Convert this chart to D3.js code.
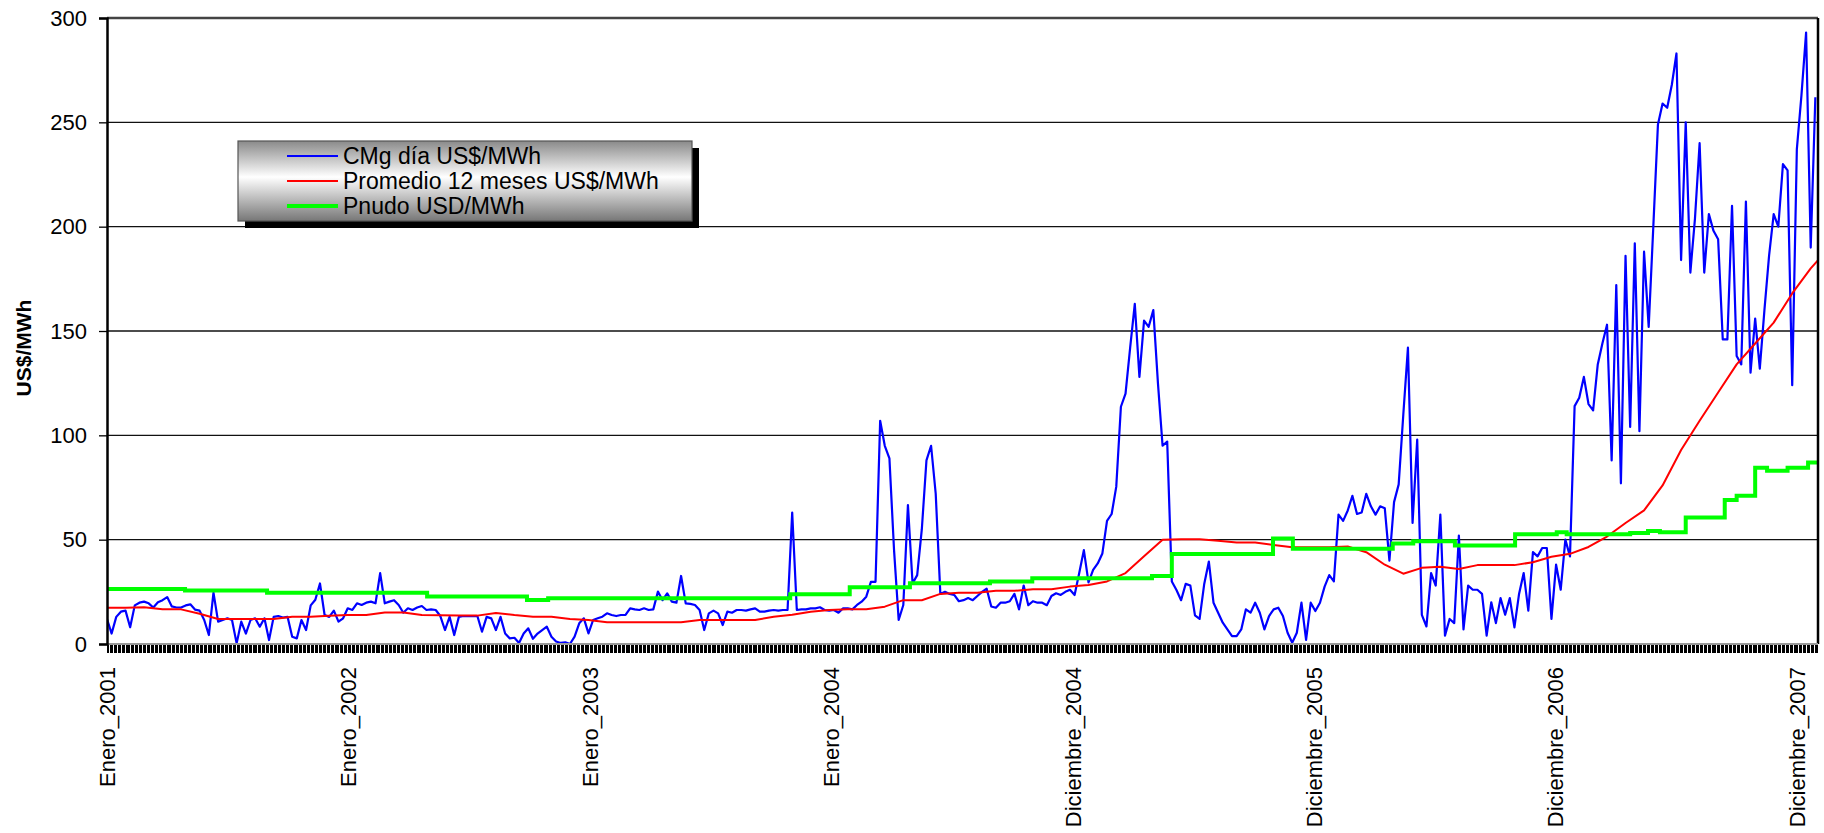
<!DOCTYPE html>
<html>
<head>
<meta charset="utf-8">
<script src="https://cdn.jsdelivr.net/npm/d3@7"></script>
<style>
  body { margin: 0; background: #fff; }
  svg { display: block; }
  text { font-family: "Liberation Sans", Arial, Helvetica, sans-serif; }
</style>
</head>
<body>
<svg id="chart" width="1824" height="833"></svg>
<script>
// ---- Data -------------------------------------------------------------
// Daily marginal cost, sampled every 7 days starting 1 Jan 2001 (US$/MWh)
const CMG_STEP_DAYS = 7;
const cmgDia = [
  12, 5, 13, 15.5, 16, 8, 18.5, 19.8, 20.3, 19.5,
  17.5, 20, 21, 22.5, 18, 17.5, 17.5, 18.5, 19, 16.5,
  16, 11.5, 4.3, 24.6, 10.7, 11.5, 12.3, 11.5, 0.3, 10.7,
  5, 11.5, 12.3, 8.3, 12.3, 1.9, 13, 13.4, 12.7, 13,
  3.5, 2.7, 11.5, 6.7, 18.5, 21.2, 29, 13.9, 13, 16,
  10.7, 12.3, 17.1, 16.3, 19.5, 18.7, 19.8, 20.3, 19.5, 34,
  19.5, 20.3, 21, 18.7, 15, 17.1, 16.3, 17.5, 18.2, 16.3,
  16.6, 16.3, 13.4, 6.7, 13, 4.3, 13, 13.4, 13.4, 13.4,
  13.4, 5.9, 13, 12.3, 6.7, 13, 5, 2.7, 3, 0.5,
  5, 7.5, 2.5, 5, 6.7, 8.3, 3.5, 1.2, 0.5, 0.8,
  0, 3.5, 9.9, 12.3, 5.1, 11.5, 12.3, 13.1, 14.7, 13.9,
  13.4, 13.9, 13.9, 17.1, 16.6, 16.3, 17.1, 16.3, 16.6, 25.1,
  21, 24.3, 20.3, 19.8, 32.6, 19.5, 19.2, 18.7, 16.3, 6.7,
  14.7, 16, 14.7, 9.1, 15.5, 15, 16.3, 16.3, 16, 16.6,
  17.1, 15.5, 15.5, 16, 16.3, 16, 16.3, 16.3, 63, 16.3,
  16.6, 16.6, 17.1, 17.1, 17.6, 16.3, 16, 16.3, 15, 17.1,
  17.1, 16.6, 18.7, 20.3, 22.7, 29.8, 29.8, 107, 95, 89,
  45, 11.5, 18.7, 66.6, 29, 33, 55, 88, 95, 72,
  24, 25, 24, 23.5, 20.5, 21, 22, 21, 23, 25,
  26.5, 18, 17.4, 19.8, 19.8, 20.5, 24, 16.6, 28, 18.6,
  20.5, 19.8, 19.8, 18.6, 23, 24.3, 23.5, 25, 26, 23.5,
  34, 45, 29.5, 35.5, 38.6, 43.4, 59, 62.3, 75.4, 113.7,
  120, 142, 163, 128, 155, 152, 160, 125, 95, 97,
  30, 25.9, 21, 28.8, 28, 13.7, 12, 28.8, 39.5, 19.8,
  15, 10.2, 7, 3.8, 3.8, 7, 16.6, 15, 19.8, 15,
  7, 13.4, 16.6, 17.4, 13.4, 5.4, 0.6, 5.4, 19.8, 2,
  19.8, 15.8, 19.8, 27.5, 33, 30, 62, 59, 64, 71,
  62.3, 63, 72, 66, 62, 66, 65, 40, 68, 76.5,
  110, 142, 58, 98, 14, 8.4, 34, 28, 62, 4,
  12, 10, 52, 7, 28, 26, 26, 24, 4, 20,
  10, 22, 14, 22, 8, 24, 34, 16, 44, 42,
  46, 46, 12, 38, 26, 50, 42, 114, 118, 128,
  115, 112, 134, 144, 153, 88, 172, 77, 186, 104,
  192, 102, 188, 152, 200, 249, 259, 257, 268, 283,
  184, 250, 178, 204, 240, 178, 206, 198, 194, 146,
  146, 210, 138, 134, 212, 130, 156, 132, 160, 186,
  206, 200, 230, 227, 124, 237, 263, 293, 190, 262
];

// 12-month rolling average, sampled every 28 days (US$/MWh)
const PROM_STEP_DAYS = 28;
const promedio12 = [
  17.4, 17.4, 17.6, 16.6, 16.6, 14.5, 12, 12, 12, 12,
  13.1, 13.1, 13.5, 13.9, 13.9, 15.1, 15.1, 13.9, 13.8, 13.6,
  13.6, 14.9, 13.9, 13.1, 13.1, 12, 11.5, 10.4, 10.4, 10.4,
  10.4, 10.4, 11.5, 11.5, 11.5, 11.5, 13.1, 14, 15.5, 16.3,
  16.6, 16.6, 17.9, 21, 21, 24, 24.6, 24.6, 25.5, 25.5,
  26.2, 26.2, 27.5, 28.3, 30, 34, 42, 50, 50.2, 50.2,
  49.5, 48.6, 48.6, 47.5, 46.4, 46.4, 46.4, 46.7, 44, 38,
  33.7, 36.5, 37, 35.9, 37.8, 37.8, 37.8, 39.2, 41.8, 43.2,
  46.5, 51.5, 58, 64, 76, 93, 107, 120.5, 134, 144,
  154, 168, 180, 190
];

// Node price: day (counted from 1 Jan 2001) on which each new value starts
const pnudoDia = [0, 118, 242, 484, 635, 667, 1033, 1123, 1214, 1335, 1399, 1580, 1610,
  1763, 1793, 1944, 1975, 2038, 2129, 2192, 2207, 2303, 2330, 2348, 2387, 2446, 2464,
  2492, 2510, 2541, 2572];
const pnudoValor = [26.4, 25.6, 24.6, 22.8, 21.1, 21.9, 23.8, 27.2, 29.1, 29.9, 31.5, 32.6, 43.1,
  50.6, 45.7, 48.2, 49.2, 47.2, 52.6, 53.6, 52.6, 53.2, 54.2, 53.6, 60.6, 69, 71,
  84.5, 83, 84.5, 87];

// Category axis: one label every 365 days
const etiquetasX = ["Enero_2001", "Enero_2002", "Enero_2003", "Enero_2004",
  "Diciembre_2004", "Diciembre_2005", "Diciembre_2006", "Diciembre_2007"];
const LABEL_EVERY = 365;
const TOTAL_DAYS = 2587;
const yTicks = [0, 50, 100, 150, 200, 250, 300];

const series = [
  { name: "CMg día US$/MWh", color: "#0000ff", width: 2 },
  { name: "Promedio 12 meses US$/MWh", color: "#ff0000", width: 2 },
  { name: "Pnudo USD/MWh", color: "#00ff00", width: 4 }
];

// ---- Layout -----------------------------------------------------------
const svg = d3.select("#chart");
const plot = { left: 107, right: 1818, top: 18, bottom: 644 };

const x = d3.scaleLinear().domain([0, TOTAL_DAYS]).range([plot.left, plot.right]);
const y = d3.scaleLinear().domain([0, 300]).range([plot.bottom, plot.top]);

svg.append("defs").append("clipPath").attr("id", "plotClip")
  .append("rect")
  .attr("x", plot.left).attr("y", plot.top - 2)
  .attr("width", plot.right - plot.left).attr("height", plot.bottom - plot.top + 4);

// horizontal gridlines
svg.append("g").selectAll("line")
  .data(yTicks.filter(v => v > 0 && v < 300))
  .join("line")
  .attr("x1", plot.left).attr("x2", plot.right)
  .attr("y1", d => y(d)).attr("y2", d => y(d))
  .attr("stroke", "#111").attr("stroke-width", 1.3);

// ---- Series -----------------------------------------------------------
const cmgPts = cmgDia.map((v, i) => ({ d: i * CMG_STEP_DAYS, v }));
const promPts = promedio12.map((v, i) => ({ d: i * PROM_STEP_DAYS, v }));
const pnudoPts = pnudoDia.map((d, i) => ({ d, v: pnudoValor[i] }));
pnudoPts.push({ d: TOTAL_DAYS, v: pnudoValor[pnudoValor.length - 1] });

const lines = svg.append("g").attr("clip-path", "url(#plotClip)");
const lineGen = d3.line().x(p => x(p.d)).y(p => y(p.v));

lines.append("path").datum(cmgPts)
  .attr("d", lineGen)
  .attr("fill", "none").attr("stroke", series[0].color)
  .attr("stroke-width", 2.2).attr("stroke-linejoin", "round");

lines.append("path").datum(promPts)
  .attr("d", lineGen)
  .attr("fill", "none").attr("stroke", series[1].color)
  .attr("stroke-width", series[1].width).attr("stroke-linejoin", "round");

lines.append("path").datum(pnudoPts)
  .attr("d", d3.line().curve(d3.curveStepAfter).x(p => x(p.d)).y(p => y(p.v)))
  .attr("fill", "none").attr("stroke", series[2].color)
  .attr("stroke-width", series[2].width);

// ---- Frame ------------------------------------------------------------
svg.append("line").attr("x1", plot.left).attr("x2", plot.right)
  .attr("y1", plot.top).attr("y2", plot.top)
  .attr("stroke", "#444").attr("stroke-width", 2.5);
svg.append("line").attr("x1", plot.right).attr("x2", plot.right)
  .attr("y1", plot.top).attr("y2", plot.bottom)
  .attr("stroke", "#000").attr("stroke-width", 2.5);
svg.append("line").attr("x1", plot.left).attr("x2", plot.right)
  .attr("y1", plot.bottom).attr("y2", plot.bottom)
  .attr("stroke", "#9a9a9a").attr("stroke-width", 2);

// ---- Y axis -----------------------------------------------------------
const yAxis = svg.append("g")
  .attr("transform", `translate(${plot.left},0)`)
  .call(d3.axisLeft(y).tickValues(yTicks).tickSize(8).tickPadding(12).tickFormat(d3.format("d")));
yAxis.select(".domain").attr("stroke", "#000").attr("stroke-width", 2.5);
yAxis.selectAll(".tick line").attr("stroke", "#000").attr("stroke-width", 1.3);
yAxis.selectAll(".tick text")
  .attr("font-size", 22).attr("fill", "#000")
  .style("font-family", '"Liberation Sans", Arial, sans-serif');

svg.append("text")
  .attr("transform", `translate(31,348) rotate(-90)`)
  .attr("text-anchor", "middle")
  .attr("font-size", 21).attr("font-weight", "bold")
  .text("US$/MWh");

// ---- X axis (dense category ticks + yearly labels) ---------------------
const xAxis = svg.append("g")
  .attr("transform", `translate(0,${plot.bottom + 1})`)
  .call(d3.axisBottom(x).tickValues(d3.range(0, TOTAL_DAYS, 2)).tickSize(8).tickFormat(""));
xAxis.select(".domain").remove();
xAxis.selectAll(".tick line").attr("stroke", "#000").attr("stroke-width", 1)
  .attr("shape-rendering", "crispEdges");

svg.append("g").selectAll("text")
  .data(etiquetasX)
  .join("text")
  .attr("transform", (d, i) => `translate(${x(i * LABEL_EVERY)},667) rotate(-90)`)
  .attr("text-anchor", "end")
  .attr("dy", "0.36em")
  .attr("font-size", 22)
  .text(d => d);

// ---- Legend -----------------------------------------------------------
const grad = svg.select("defs").append("linearGradient")
  .attr("id", "legendFill").attr("x1", 0).attr("y1", 0).attr("x2", 0).attr("y2", 1);
grad.append("stop").attr("offset", "0%").attr("stop-color", "#8a8a8a");
grad.append("stop").attr("offset", "45%").attr("stop-color", "#ffffff");
grad.append("stop").attr("offset", "100%").attr("stop-color", "#777777");

const legend = svg.append("g").attr("transform", "translate(238,141)");
legend.append("rect").attr("x", 7).attr("y", 7).attr("width", 454).attr("height", 80).attr("fill", "#000");
legend.append("rect").attr("width", 454).attr("height", 80)
  .attr("fill", "url(#legendFill)").attr("stroke", "#555").attr("stroke-width", 1.2);

const items = legend.selectAll("g.item").data(series).join("g")
  .attr("class", "item")
  .attr("transform", (d, i) => `translate(0,${15 + i * 25})`);
items.append("line").attr("x1", 49).attr("x2", 100)
  .attr("stroke", d => d.color).attr("stroke-width", d => d.width === 4 ? 4 : 2);
items.append("text").attr("x", 105).attr("dy", "0.35em")
  .attr("font-size", 23).text(d => d.name);
</script>
</body>
</html>
